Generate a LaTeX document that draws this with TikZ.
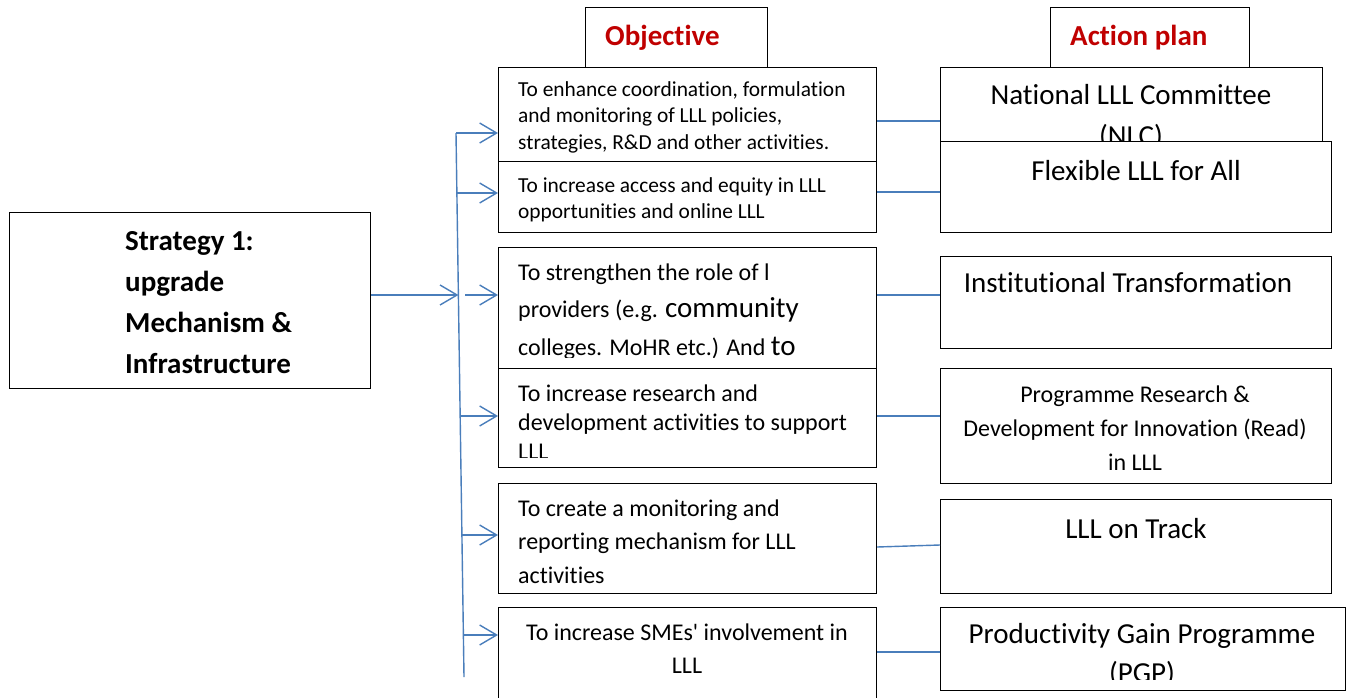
\documentclass[tikz,border=0pt]{standalone}
\usepackage{fontspec}
\setmainfont{Carlito}[Ligatures={NoCommon}]
\usetikzlibrary{arrows.meta,calc}
\definecolor{lineblue}{HTML}{4A7EBB}
\definecolor{headred}{HTML}{C00000}
\newcommand\lnsL[1]{\vtop{\halign{##\hfil\cr#1\crcr}}}
\newcommand\lnsC[1]{\vtop{\halign{\hfil##\hfil\cr#1\crcr}}}
\begin{document}
\begin{tikzpicture}[x=1pt,y=-1pt,
  box/.style={draw=black,line width=1.2pt,fill=white,inner sep=0pt,anchor=north west},
  txt/.style={inner sep=0pt,text=black},
  con/.style={draw=lineblue,line width=1.4pt},
  arr/.style={con,-{Straight Barb[length=17pt,width=20pt,line width=1.4pt]}},
  fsmall/.style={font=\fontsize{21.4}{26}\selectfont},
  fbig/.style={font=\fontsize{29}{37}\selectfont},
  fhead/.style={font=\fontsize{29}{37}\selectfont\bfseries,text=headred}]
\useasboundingbox (0,0) rectangle (1348,698);
\fill[white] (0,0) rectangle (1348,698);

% Strategy box
\node[box,minimum width=361pt,minimum height=176pt] (s) at (9,212) {};
\node[txt,anchor=base west,font=\fontsize{29}{41}\selectfont\bfseries] (st) at (125,250)
  {\lnsL{Strategy 1:\cr upgrade\cr Mechanism \&\cr Infrastructure}};

% headers
\node[box,minimum width=182pt,minimum height=60pt] (h1) at (585,7) {};
\node[txt,fhead,anchor=base west] (h1t) at (605,46) {Objective};
\node[box,minimum width=199pt,minimum height=60pt] (h2) at (1050,7) {};
\node[txt,fhead,anchor=base west] (h2t) at (1070,46) {Action plan};

% Objective boxes
\node[box,minimum width=378pt,minimum height=101pt] (o1) at (498,67) {};
\begin{scope}
\clip (498,67) rectangle (876,157);
\node[txt,fsmall,anchor=base west] (o1t) at (518,97)
  {\lnsL{To enhance coordination, formulation\cr and monitoring of LLL policies,\cr strategies, R\&D and other activities.}};
\end{scope}
\node[box,minimum width=378pt,minimum height=71pt] (o2) at (498,161) {};
\node[txt,fsmall,anchor=base west] (o2t) at (518,192)
  {\lnsL{To increase access and equity in LLL\cr opportunities and online LLL}};
\node[box,minimum width=378pt,minimum height=121pt] (o3) at (498,247) {};
\begin{scope}
\clip (498,247) rectangle (876,357);
\node[txt,font=\fontsize{24}{37.5}\selectfont,anchor=base west] (o3t) at (518,280)
  {\lnsL{To strengthen the role of l\cr providers (e.g. {\fontsize{29}{37.5}\selectfont community}\cr colleges. MoHR etc.) And {\fontsize{29}{37.5}\selectfont to}}};
\end{scope}
\node[box,minimum width=378pt,minimum height=99pt] (o4) at (498,368) {};
\begin{scope}
\clip (498,368) rectangle (876,457);
\node[txt,font=\fontsize{24}{29}\selectfont,anchor=base west] (o4t) at (518,401)
  {\lnsL{To increase research and\cr development activities to support\cr LLL}};
\end{scope}
\node[box,minimum width=378pt,minimum height=110pt] (o5) at (498,483) {};
\node[txt,font=\fontsize{24}{33.5}\selectfont,anchor=base west] (o5t) at (518,516)
  {\lnsL{To create a monitoring and\cr reporting mechanism for LLL\cr activities}};
\node[box,minimum width=378pt,minimum height=100pt] (o6) at (498,607) {};
\node[txt,font=\fontsize{24}{33}\selectfont,anchor=base] (o6t) at (687,640)
  {\lnsC{To increase SMEs\textquotesingle\ involvement in\cr LLL}};

% Action boxes
\node[box,minimum width=382pt,minimum height=85pt] (a1) at (940,67) {};
\begin{scope}
\clip (940,67) rectangle (1322,141);
\node[txt,font=\fontsize{29}{41}\selectfont,anchor=base] (a1t) at (1131,105)
  {\lnsC{National LLL Committee\cr (NLC)}};
\end{scope}
\node[box,minimum width=391pt,minimum height=91pt] (a2) at (940,141) {};
\node[txt,fbig,anchor=base] (a2t) at (1136,180) {Flexible LLL for All};
\node[box,minimum width=391pt,minimum height=92pt] (a3) at (940,256) {};
\node[txt,fbig,anchor=base] (a3t) at (1128,292) {Institutional Transformation};
\node[box,minimum width=391pt,minimum height=115pt] (a4) at (940,368) {};
\node[txt,font=\fontsize{24}{34}\selectfont,anchor=base] (a4t) at (1135,402)
  {\lnsC{Programme Research \&\cr Development for Innovation (Read)\cr in LLL}};
\node[box,minimum width=391pt,minimum height=94pt] (a5) at (940,499) {};
\node[txt,fbig,anchor=base] (a5t) at (1136,538) {LLL on Track};
\node[box,minimum width=405pt,minimum height=83pt] (a6) at (940,607) {};
\begin{scope}
\clip (940,607) rectangle (1345,679);
\node[txt,font=\fontsize{29}{39}\selectfont,anchor=base] (a6t) at (1142,643)
  {\lnsC{Productivity Gain Programme\cr (PGP)}};
\end{scope}

% Spine and branches
\coordinate (vtop) at (456,133);
\coordinate (vbot) at (464,677);
\draw[con] (vtop) -- (vbot);
\coordinate (b1) at (456.0,133);
\coordinate (b2) at (456.9,193);
\coordinate (b3) at (458.4,295);
\coordinate (b4) at (460.2,416);
\coordinate (b5) at (462.0,535);
\coordinate (b6) at (463.4,635);
\coordinate (sm) at (370,295);
\draw[arr] (s.east |- sm) -- (b3);
\draw[arr] (b1) -- (b1 -| o1.west);
\draw[arr] (b2) -- (b2 -| o2.west);
\draw[arr] ([xshift=7pt]b3) -- (b3 -| o3.west);
\draw[arr] (b4) -- (b4 -| o4.west);
\draw[arr] (b5) -- (b5 -| o5.west);
\draw[arr] (b6) -- (b6 -| o6.west);

% Objective to action connectors
\coordinate (r1) at (0,121);
\coordinate (r2) at (0,192);
\coordinate (r3) at (0,295);
\coordinate (r4) at (0,416);
\coordinate (r5a) at (0,547);
\coordinate (r5b) at (0,545);
\coordinate (r6) at (0,652);
\draw[con] (r1 -| o1.east) -- (r1 -| a1.west);
\draw[con] (r2 -| o2.east) -- (r2 -| a2.west);
\draw[con] (r3 -| o3.east) -- (r3 -| a3.west);
\draw[con] (r4 -| o4.east) -- (r4 -| a4.west);
\draw[con] (r5a -| o5.east) -- (r5b -| a5.west);
\draw[con] (r6 -| o6.east) -- (r6 -| a6.west);
\end{tikzpicture}
\end{document}
